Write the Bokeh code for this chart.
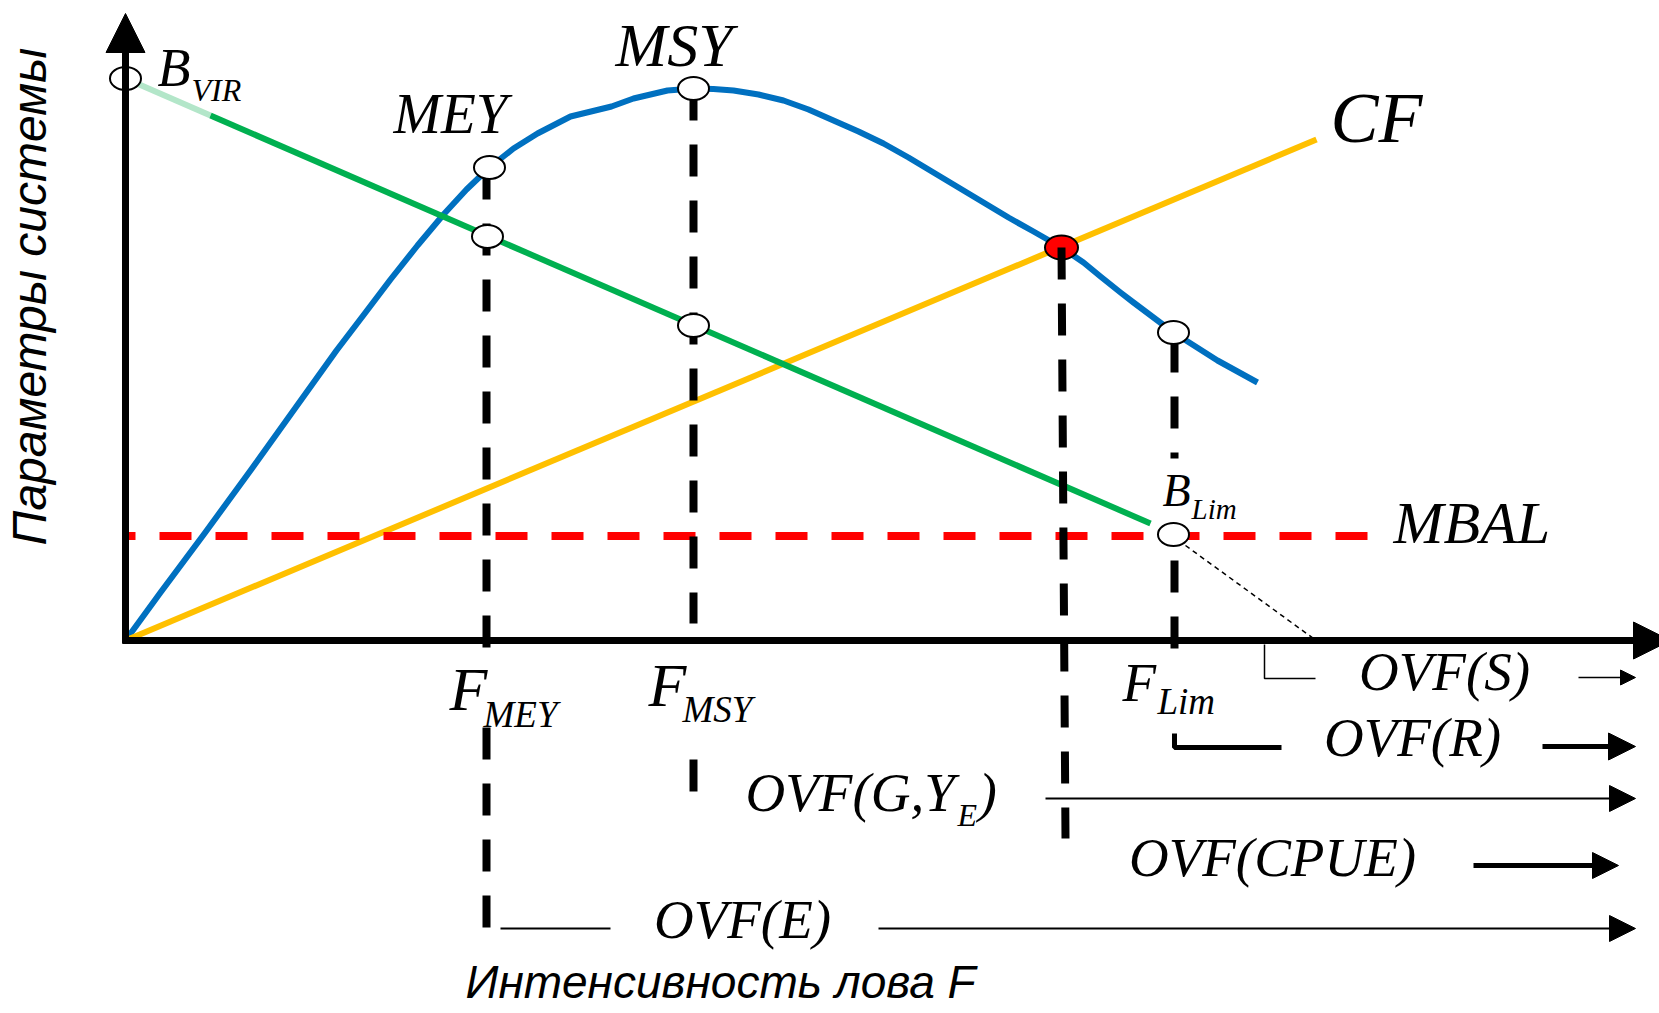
from bokeh.plotting import figure
from bokeh.models import Range1d, Arrow, NormalHead
from bokeh.core.properties import value
from bokeh.embed import file_html
from bokeh.resources import INLINE

# ---------------------------------------------------------------
# Fishing intensity F (horizontal) vs. system parameters (vertical)
# ---------------------------------------------------------------

# Yield curve (blue)
yield_f = [0.0, 3.5, 7.9, 12.5, 16.8, 21.1, 24.0, 26.5, 29.2, 31.8, 34.1, 36.4,
           38.8, 41.2, 44.5, 48.6, 50.8, 54.2, 56.8, 58.8, 60.8, 63.3, 65.8,
           68.3, 70.8, 73.3, 75.8, 78.3, 80.8, 83.3, 85.8, 88.3, 90.8, 93.6,
           95.8, 97.5, 99.5, 100.8, 102.8, 104.8, 107.0, 109.2, 111.2, 113.2]
yield_v = [0.0, 4.8, 10.7, 17.0, 23.0, 29.0, 32.8, 36.1, 39.5, 42.6, 45.1, 47.3,
           49.2, 50.7, 52.4, 53.4, 54.2, 55.0, 55.2, 55.15, 55.0, 54.6, 54.0,
           53.1, 52.0, 50.9, 49.7, 48.3, 46.8, 45.3, 43.8, 42.3, 40.9, 39.3,
           37.8, 36.4, 34.8, 33.8, 32.3, 30.8, 29.4, 28.0, 26.9, 25.8]

# Stock biomass (green), from virgin biomass down to the limit
biomass_f = [0.0, 8.5, 102.5]
biomass_v = [56.2, 52.5, 11.7]

# Fishing cost CF (yellow)
cost_f = [0.0, 119.1]
cost_v = [0.0, 50.1]

# Minimum biologically acceptable level MBAL (red, dashed)
mbal_f = [0.0, 124.2]
mbal_v = [10.45, 10.45]

# Reference points on the curves
ref_f = [0.0, 36.4, 36.2, 56.8, 56.8, 104.8, 104.8]
ref_v = [56.2, 47.3, 40.4, 55.2, 31.5, 30.8, 10.6]

# Economic equilibrium (yield = cost)
eq_f = [93.6]
eq_v = [39.3]

# Fishing-intensity reference levels
F_MEY, F_MSY, F_EQ, F_LIM = 36.1, 56.8, 93.6, 104.9

# Overfishing thresholds: (start F, end F, level)
ovf_s = (145.3, 151.0, -3.7)
ovf_r = (141.7, 151.0, -10.6)
ovf_g = (92.0, 151.0, -15.8)
ovf_cpue = (134.8, 149.3, -22.5)
ovf_e = (75.3, 151.0, -28.8)

# ---------------------------------------------------------------
p = figure(width=1659, height=1013, x_range=Range1d(-12.5, 153.4),
           y_range=Range1d(-37.3, 64.0), x_axis_type=None, y_axis_type=None,
           toolbar_location=None, output_backend="svg", min_border=0,
           outline_line_color=None, background_fill_color="white",
           border_fill_color="white")
p.min_border_left = p.min_border_right = p.min_border_top = p.min_border_bottom = 0

BLUE, GREEN, LGREEN, YELLOW, RED = "#0070C0", "#00B050", "#B3E6C9", "#FFC000", "#FF0000"

# Curves
p.line(yield_f, yield_v, line_color=BLUE, line_width=6, line_join="round")
p.line(cost_f, cost_v, line_color=YELLOW, line_width=6)
p.line(biomass_f[:2], biomass_v[:2], line_color=LGREEN, line_width=6)
p.line(biomass_f[1:], biomass_v[1:], line_color=GREEN, line_width=6)
p.line(mbal_f, mbal_v, line_color=RED, line_width=8, line_dash="32 24",
       line_dash_offset=22)

# Equilibrium point (under the dashed drop line)
p.ellipse(eq_f, eq_v, width=33, height=24, width_units="screen",
          height_units="screen", fill_color=RED, line_color="black", line_width=2)

# Dashed drop lines to the F axis
drop_xs = [[F_MEY, F_MEY], [F_MEY, F_MEY], [F_MSY, F_MSY], [F_MSY, F_MSY],
           [F_EQ, F_EQ + 0.4], [F_LIM, F_LIM], [F_LIM, F_LIM]]
drop_ys = [[ref_v[1], -0.7], [-8.7, -28.7], [ref_v[3], 1.7], [-11.9, -15.1],
           [eq_v[0], -19.8], [30.0, 18.2], [8.0, -1.0]]
p.multi_line(drop_xs, drop_ys, line_color="black", line_width=8, line_dash="32 24")

# Brackets that start the overfishing zones
p.line([113.9, 113.9, 119.0], [-0.4, -3.8, -3.8], line_color="black", line_width=1.5)
p.line([F_LIM, F_LIM, 115.6], [-9.3, -10.7, -10.7], line_color="black", line_width=5)
p.line([106.0, 118.8], [9.5, 0.2], line_color="black", line_width=1.5, line_dash="5 4")
p.line([37.5, 48.5], [ovf_e[2], ovf_e[2]], line_color="black", line_width=2)

# Reference point markers
p.ellipse(ref_f, ref_v, width=31, height=23, width_units="screen",
          height_units="screen", fill_color="white", line_color="black", line_width=2)

# Axes drawn as arrows
def arrow(x0, y0, x1, y1, lw, size):
    p.add_layout(Arrow(x_start=x0, y_start=y0, x_end=x1, y_end=y1,
                       line_color="black", line_width=lw,
                       end=NormalHead(size=size, fill_color="black",
                                      line_color="black", line_width=1)))

arrow(0, -0.3, 0, 62.7, 7, 39)
arrow(-0.3, 0, 154.5, 0, 7, 37)

# Overfishing arrows
arrow(ovf_s[0], ovf_s[2], ovf_s[1], ovf_s[2], 1.5, 15)
arrow(ovf_r[0], ovf_r[2], ovf_r[1], ovf_r[2], 5, 27)
arrow(ovf_g[0], ovf_g[2], ovf_g[1], ovf_g[2], 2, 26)
arrow(ovf_cpue[0], ovf_cpue[2], ovf_cpue[1], ovf_cpue[2], 5, 26)
arrow(ovf_e[0], ovf_e[2], ovf_e[1], ovf_e[2], 2, 26)

# Labels
SERIF = value("Liberation Serif")
SANS = value("Liberation Sans")

def label(x, y, s, size, font=SERIF, align="left"):
    # lift by the font's rendered baseline drop so (x, y) is the baseline
    p.text(x=[x], y=[y + 0.038 * size], text=[s], text_font=font,
           text_font_style="italic", text_font_size=f"{size}px",
           text_align=align, text_baseline="alphabetic", text_color="black")

label(3.2, 55.2, "B", 54)
label(6.6, 53.8, "VIR", 32)
label(26.8, 50.5, "MEY", 57)
label(49.0, 57.2, "MSY", 62)
label(120.5, 49.5, "CF", 72)
label(126.8, 9.5, "MBAL", 60)
label(103.7, 13.3, "B", 46)
label(106.6, 12.0, "Lim", 29)

label(32.4, -7.2, "F", 62)
label(35.8, -8.8, "MEY", 37)
label(52.3, -6.8, "F", 62)
label(55.7, -8.3, "MSY", 37)
label(99.7, -6.3, "F", 55)
label(103.2, -7.5, "Lim", 37)

label(131.9, -5.2, "OVF(S)", 55, align="center")
label(128.7, -11.8, "OVF(R)", 55, align="center")
label(62.0, -17.3, "OVF(G,Y", 55)
label(83.2, -18.7, "E", 32)
label(85.3, -17.3, ")", 55)
label(114.7, -23.8, "OVF(CPUE)", 55, align="center")
label(61.7, -30.0, "OVF(E)", 55, align="center")

label(34.0, -35.9, "Интенсивность лова F", 46, font=SANS)

p.text(x=[-9.6], y=[34.4], text=["Параметры системы"], text_font=SANS,
       text_font_style="italic", text_font_size="48px", text_align="center",
       text_baseline="middle", angle=1.5707963, text_color="black")

open("out.html", "w").write(file_html(p, INLINE))
